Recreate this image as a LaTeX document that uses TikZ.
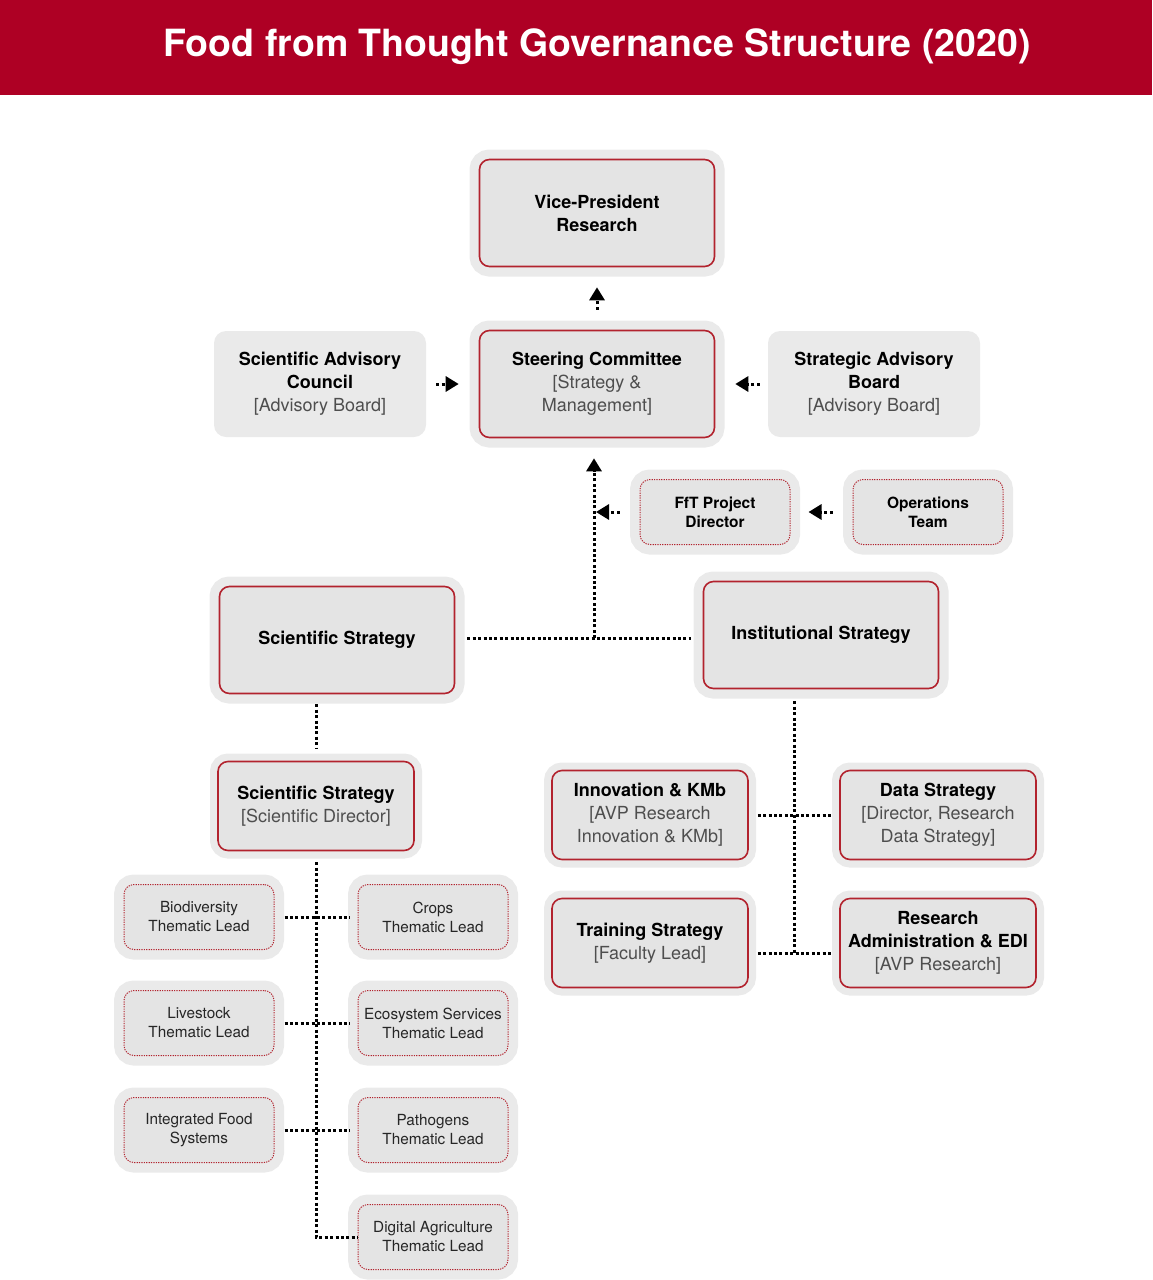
\documentclass[tikz,border=0pt]{standalone}
\usepackage{fontspec}
\setmainfont{TeX Gyre Heros}
\usepackage{tikz}
\usepackage{xcolor}
\usetikzlibrary{arrows.meta,positioning}
\definecolor{fftred}{HTML}{AE0024}
\definecolor{boxred}{HTML}{B2232E}
\definecolor{boxfill}{HTML}{E4E4E4}
\definecolor{halogray}{HTML}{EAEAEA}
\definecolor{subgray}{HTML}{4E4E4E}
\newcommand{\subline}[1]{{\color{subgray}\mdseries #1}}

\begin{document}
\begin{tikzpicture}[x=1pt,y=-1pt,
  halo/.style={preaction={draw=halogray,solid,line width=#1}},
  card/.style={rounded corners=10pt,draw=boxred,line width=1.6pt,fill=boxfill,
    align=center,inner sep=0pt,font=\fontsize{18}{23}\selectfont\bfseries},
  mainbox/.style={card,halo=20pt,minimum width=235pt,minimum height=107pt},
  midbox/.style={card,halo=16pt,minimum width=196pt,minimum height=89pt},
  leadbox/.style={card,halo=20pt,line width=1pt,dash pattern=on 1.2pt off 1.2pt,
    minimum width=150pt,minimum height=65pt,text=black!85,
    font=\fontsize{15.3}{19}\selectfont},
  dotbox/.style={leadbox,text=black,font=\fontsize{15.5}{19}\selectfont\bfseries},
  advbox/.style={rounded corners=12pt,fill=halogray,minimum width=212pt,
    minimum height=106pt,align=center,inner sep=0pt,
    font=\fontsize{18}{23}\selectfont\bfseries},
  link/.style={line width=3pt,dash pattern=on 3pt off 2.4pt},
  linkarrow/.style={link,-{Triangle[width=15pt,length=13pt]}}]
\useasboundingbox (0,0) rectangle (1152,1280);
\fill[fftred] (0,0) rectangle (1152,95);
\node[font=\fontsize{37.5}{42}\selectfont\bfseries,text=white] (title) at (597,47) {Food from Thought Governance Structure (2020)};

\node[mainbox] (vp) at (597,213) {Vice-President\\Research};
\node[mainbox] (steer) at (597,384) {Steering Committee\\\subline{[Strategy \&}\\\subline{Management]}};
\node[advbox] (sac) at (320,384) {Scientific Advisory\\Council\\\subline{[Advisory Board]}};
\node[advbox] (sab) at (874,384) {Strategic Advisory\\Board\\\subline{[Advisory Board]}};
\node[dotbox] (fft) at (715,512) {FfT Project\\Director};
\node[dotbox] (ops) at (928,512) {Operations\\Team};
\node[mainbox] (sci) at (337,640) {Scientific Strategy};
\node[mainbox] (inst) at (821,635) {Institutional Strategy};
\node[midbox] (dir) at (316,806) {Scientific Strategy\\\subline{[Scientific Director]}};
\node[midbox] (innov) at (650,815) {Innovation \& KMb\\\subline{[AVP Research}\\\subline{Innovation \& KMb]}};
\node[midbox] (data) at (938,815) {Data Strategy\\\subline{[Director, Research}\\\subline{Data Strategy]}};
\node[midbox] (train) at (650,943) {Training Strategy\\\subline{[Faculty Lead]}};
\node[midbox] (admin) at (938,943) {Research\\Administration \& EDI\\\subline{[AVP Research]}};
\node[leadbox] (bio) at (199,917) {Biodiversity\\Thematic Lead};
\node[leadbox] (crops) at (433,917) {Crops\\Thematic Lead};
\node[leadbox] (live) at (199,1023) {Livestock\\Thematic Lead};
\node[leadbox] (eco) at (433,1023) {Ecosystem Services\\Thematic Lead};
\node[leadbox] (ifs) at (199,1130) {Integrated Food\\Systems};
\node[leadbox] (path) at (433,1130) {Pathogens\\Thematic Lead};
\node[leadbox] (digi) at (433,1237) {Digital Agriculture\\Thematic Lead};

\coordinate (hub) at (594,638);
\coordinate (fftjoin) at (hub |- fft.west);
\coordinate (spineend) at (dir.south |- digi.west);
\coordinate (instend) at (794,953);
\draw[linkarrow,shorten <=20pt,shorten >=20pt] (steer.north) -- (vp.south);
\draw[linkarrow,shorten <=10pt,shorten >=20pt] (sac.east) -- (steer.west);
\draw[linkarrow,shorten <=8pt,shorten >=20pt] (sab.west) -- (steer.east);
\draw[linkarrow,shorten >=20pt] (hub) -- (hub |- steer.south);
\draw[linkarrow,shorten <=20pt,shorten >=2pt] (fft.west) -- (fftjoin);
\draw[linkarrow,shorten <=20pt,shorten >=18pt] (ops.west) -- (fft.east);
\draw[link,shorten <=12pt,shorten >=12pt] (sci.east |- hub) -- (hub -| inst.west);
\draw[link,shorten <=10pt,shorten >=12pt] (dir.north |- sci.south) -- (dir.north);
\draw[link,shorten <=11pt] (dir.south) -- (spineend) -- (digi.west);
\draw[link,shorten <=10pt,shorten >=8pt] (bio.east) -- (crops.west);
\draw[link,shorten <=10pt,shorten >=8pt] (live.east) -- (eco.west);
\draw[link,shorten <=10pt,shorten >=8pt] (ifs.east) -- (path.west);
\draw[link,shorten <=12pt] (inst.south -| instend) -- (instend);
\draw[link,shorten <=9pt,shorten >=7pt] (innov.east) -- (data.west);
\draw[link,shorten <=9pt,shorten >=7pt] (train.east |- instend) -- (instend -| admin.west);
\end{tikzpicture}
\end{document}
